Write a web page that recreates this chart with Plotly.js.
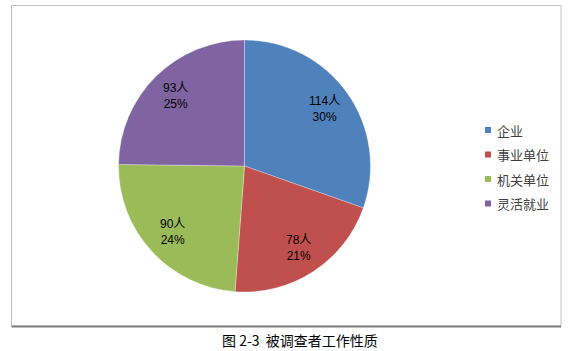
<!DOCTYPE html>
<html>
<head>
<meta charset="utf-8">
<script src="https://cdn.plot.ly/plotly-3.0.1.min.js"></script>
<style>
  html, body { margin: 0; padding: 0; background: #ffffff; }
  #chart { width: 575px; height: 351px; }
</style>
</head>
<body>
<div id="chart"></div>
<script>
// 被调查者工作性质分布（人数）
const categories = ['企业', '事业单位', '机关单位', '灵活就业'];
const counts = [114, 78, 90, 93];
const colors = ['#4F81BD', '#C0504D', '#9BBB59', '#8064A2'];
const caption = '图 2-3  被调查者工作性质';

const W = 575, H = 351;
const labelFont = '"Liberation Sans", "Noto Sans CJK SC", sans-serif';
const cjkFont = '"Noto Sans CJK SC", sans-serif';

// pie placement (paper fractions)
const pieDomain = { x: [0.2061, 0.6443], y: [0.1681, 0.886] };
const pieRadiusPx = Math.min((pieDomain.x[1] - pieDomain.x[0]) * W, (pieDomain.y[1] - pieDomain.y[0]) * H) / 2;
const pieCx = (pieDomain.x[0] + pieDomain.x[1]) / 2;
const pieCy = (pieDomain.y[0] + pieDomain.y[1]) / 2;
const labelRadius = 0.78;

const pie = {
  type: 'pie',
  labels: categories,
  values: counts,
  sort: false,
  direction: 'clockwise',
  rotation: 0,
  marker: { colors: colors, line: { color: 'rgba(255,255,255,0.6)', width: 0.5 } },
  textinfo: 'none',
  hoverinfo: 'skip',
  showlegend: false,
  domain: pieDomain
};

// data labels: "N人" over the rounded share, at each slice's mid-angle
const total = counts.reduce((a, b) => a + b, 0);
const dataLabels = [];
let cum = 0;
counts.forEach((v, i) => {
  const mid = (cum + v / 2) / total * 2 * Math.PI; // clockwise from 12 o'clock
  cum += v;
  const rr = pieRadiusPx * labelRadius;
  dataLabels.push({
    text: v + '人<br>' + Math.round(v / total * 100) + '%',
    xref: 'paper', yref: 'paper',
    x: pieCx + rr * Math.sin(mid) / W,
    y: pieCy + rr * Math.cos(mid) / H,
    xanchor: 'center', yanchor: 'middle',
    showarrow: false,
    font: { family: labelFont, size: 12, color: '#000000' }
  });
});

// legend: small colour keys with labels, stacked on the right
const legendX = 0.8435, legendTop = 0.6296, legendStep = 0.0698, keyPx = 6;
const legendShapes = [], legendLabels = [];
categories.forEach((name, i) => {
  const yc = legendTop - i * legendStep;
  legendShapes.push({
    type: 'rect', xref: 'paper', yref: 'paper',
    x0: legendX, x1: legendX + keyPx / W,
    y0: yc - keyPx / 2 / H, y1: yc + keyPx / 2 / H,
    fillcolor: colors[i], line: { width: 0 }
  });
  legendLabels.push({
    text: name, xref: 'paper', yref: 'paper',
    x: legendX + (keyPx + 4) / W, y: yc,
    xanchor: 'left', yanchor: 'middle', showarrow: false,
    font: { family: cjkFont, size: 13, color: '#404040' }
  });
});

const layout = {
  width: W,
  height: H,
  margin: { l: 0, r: 0, t: 0, b: 0 },
  paper_bgcolor: '#ffffff',
  plot_bgcolor: '#ffffff',
  showlegend: false,
  shapes: [
    { type: 'rect', xref: 'paper', yref: 'paper', x0: 0.0200, x1: 0.9757, y0: 0.0712, y1: 0.9843,
      line: { color: '#BFBFBF', width: 1 }, fillcolor: 'rgba(0,0,0,0)' },
    { type: 'line', xref: 'paper', yref: 'paper', x0: 0.0200, x1: 0.9757, y0: 0.0698, y1: 0.0698,
      line: { color: '#808080', width: 2 } }
  ].concat(legendShapes),
  annotations: dataLabels.concat(legendLabels).concat([
    { text: caption, xref: 'paper', yref: 'paper', x: 0.5217, y: 0.032, xanchor: 'center', yanchor: 'middle',
      showarrow: false, font: { family: cjkFont, size: 14, color: '#000000' } }
  ])
};

Plotly.newPlot('chart', [pie], layout, { staticPlot: true, displayModeBar: false });
</script>
</body>
</html>
